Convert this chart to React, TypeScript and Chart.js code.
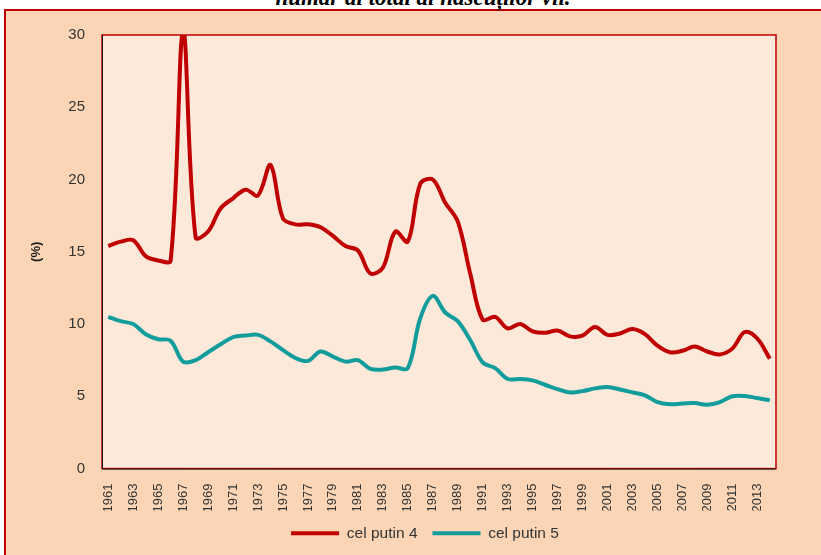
import React, { useEffect, useRef } from "react";
import { Chart, registerables } from "chart.js";

Chart.register(...registerables);

const years: string[] = [];
for (let y = 1961; y <= 2014; y++) years.push(String(y));

const celPutin4 = [
  15.4, 15.7, 15.8, 14.7, 14.4, 14.4, 30.3, 16.0, 16.4, 18.0,
  18.7, 19.3, 18.9, 21.0, 17.3, 16.9, 16.9, 16.7, 16.1, 15.4,
  15.1, 13.5, 13.9, 16.4, 15.7, 19.7, 20.0, 18.4, 17.1, 13.5,
  10.3, 10.5, 9.7, 10.0, 9.5, 9.4, 9.55, 9.15, 9.2, 9.8,
  9.25, 9.35, 9.65, 9.3, 8.5, 8.05, 8.15, 8.45, 8.1, 7.9,
  8.3, 9.45, 9.0, 7.6,
];

const celPutin5 = [
  10.5, 10.2, 10.0, 9.3, 8.95, 8.85, 7.4, 7.5, 8.05, 8.6,
  9.1, 9.2, 9.25, 8.8, 8.2, 7.65, 7.45, 8.1, 7.75, 7.4,
  7.5, 6.9, 6.85, 7.0, 6.95, 10.4, 11.95, 10.8, 10.2, 8.9,
  7.35, 6.95, 6.2, 6.2, 6.1, 5.8, 5.5, 5.27, 5.36, 5.55,
  5.65, 5.47, 5.27, 5.07, 4.6, 4.45, 4.5, 4.53, 4.42, 4.6,
  5.0, 5.02, 4.88, 4.72,
];

const seriesNames = ["cel putin 4", "cel putin 5"];
const yTicks = [0, 5, 10, 15, 20, 25, 30];
const titleText = "număr al total al născuților vii.";

const RED = "#C00000";
const TEAL = "#129C9C";

export default function App() {
  const ref = useRef<HTMLCanvasElement | null>(null);

  useEffect(() => {
    if (!ref.current) return;
    const plotBg = {
      id: "plotBg",
      beforeDraw(chart: any) {
        const { ctx, chartArea: a } = chart;
        ctx.save();
        ctx.fillStyle = "#FDE9DA";
        ctx.fillRect(a.left, a.top, a.right - a.left, a.bottom - a.top);
        ctx.restore();
      },
      afterDatasetsDraw(chart: any) {
        const { ctx, chartArea: a } = chart;
        ctx.save();
        ctx.strokeStyle = RED;
        ctx.lineWidth = 1.5;
        ctx.strokeRect(a.left, a.top, a.right - a.left, a.bottom - a.top);
        ctx.strokeStyle = "#1a1a1a";
        ctx.lineWidth = 1;
        ctx.beginPath();
        ctx.moveTo(a.left + 0.5, a.top);
        ctx.lineTo(a.left + 0.5, a.bottom + 0.5);
        ctx.lineTo(a.right, a.bottom + 0.5);
        ctx.stroke();
        ctx.restore();
      },
    };
    const chart = new Chart(ref.current, {
      type: "line",
      data: {
        labels: years,
        datasets: [
          {
            label: seriesNames[0],
            data: celPutin4,
            borderColor: RED,
            backgroundColor: RED,
            borderWidth: 4,
            pointRadius: 0,
            tension: 0.35,
          },
          {
            label: seriesNames[1],
            data: celPutin5,
            borderColor: TEAL,
            backgroundColor: TEAL,
            borderWidth: 4,
            pointRadius: 0,
            tension: 0.35,
          },
        ],
      },
      options: {
        responsive: false,
        animation: false,
        layout: { padding: { left: 29, right: 0, top: 35, bottom: 4 } },
        plugins: {
          legend: {
            position: "bottom",
            labels: {
              usePointStyle: true,
              pointStyle: "line",
              pointStyleWidth: 48,
              color: "#333333",
              padding: 15,
              font: { family: "Liberation Sans", size: 15.5 },
            },
          },
          tooltip: { enabled: false },
        },
        scales: {
          x: {
            offset: true,
            afterFit: (s: any) => {
              s.height = s.height - 9;
            },
            grid: { display: false },
            border: { display: false },
            ticks: {
              autoSkip: false,
              maxRotation: 90,
              minRotation: 90,
              padding: 7,
              color: "#333333",
              font: { family: "Liberation Sans", size: 13 },
              callback: (_v: any, i: number) => (i % 2 === 0 ? years[i] : ""),
            },
          },
          y: {
            min: 0,
            max: 30,
            afterFit: (s: any) => {
              s.width = 73;
            },
            afterBuildTicks: (s: any) => {
              s.ticks = yTicks.map((v) => ({ value: v }));
            },
            grid: { display: false, drawTicks: false },
            border: { display: false },
            ticks: {
              padding: 17,
              color: "#333333",
              font: { family: "Liberation Sans", size: 15 },
            },
            title: {
              display: true,
              text: "(%)",
              color: "#1a1a1a",
              padding: 0,
              font: { family: "Liberation Sans", size: 13, weight: "bold" },
            },
          },
          y2: {
            position: "right",
            afterFit: (s: any) => {
              s.width = 45;
            },
            grid: { display: false, drawTicks: false },
            border: { display: false },
            ticks: { display: false },
          },
        },
      },
      plugins: [plotBg],
    } as any);
    return () => chart.destroy();
  }, []);

  return (
    <div
      style={{
        position: "fixed",
        left: 0,
        top: 0,
        width: 821,
        height: 555,
        background: "#ffffff",
        overflow: "hidden",
      }}
    >
      <div
        style={{
          position: "absolute",
          left: 4,
          top: 9,
          width: 840,
          height: 570,
          background: "#FBD5B6",
          border: "2px solid " + RED,
          boxSizing: "border-box",
        }}
      />
      <div
        style={{
          position: "absolute",
          left: 0,
          width: 846,
          top: -13,
          textAlign: "center",
          font: "italic bold 23px 'Liberation Serif', serif",
          lineHeight: "22px",
          color: "#000",
          whiteSpace: "nowrap",
        }}
      >
        {titleText}
      </div>
      <canvas
        ref={ref}
        width={821}
        height={555}
        style={{ position: "absolute", left: 0, top: 0 }}
      />
    </div>
  );
}
